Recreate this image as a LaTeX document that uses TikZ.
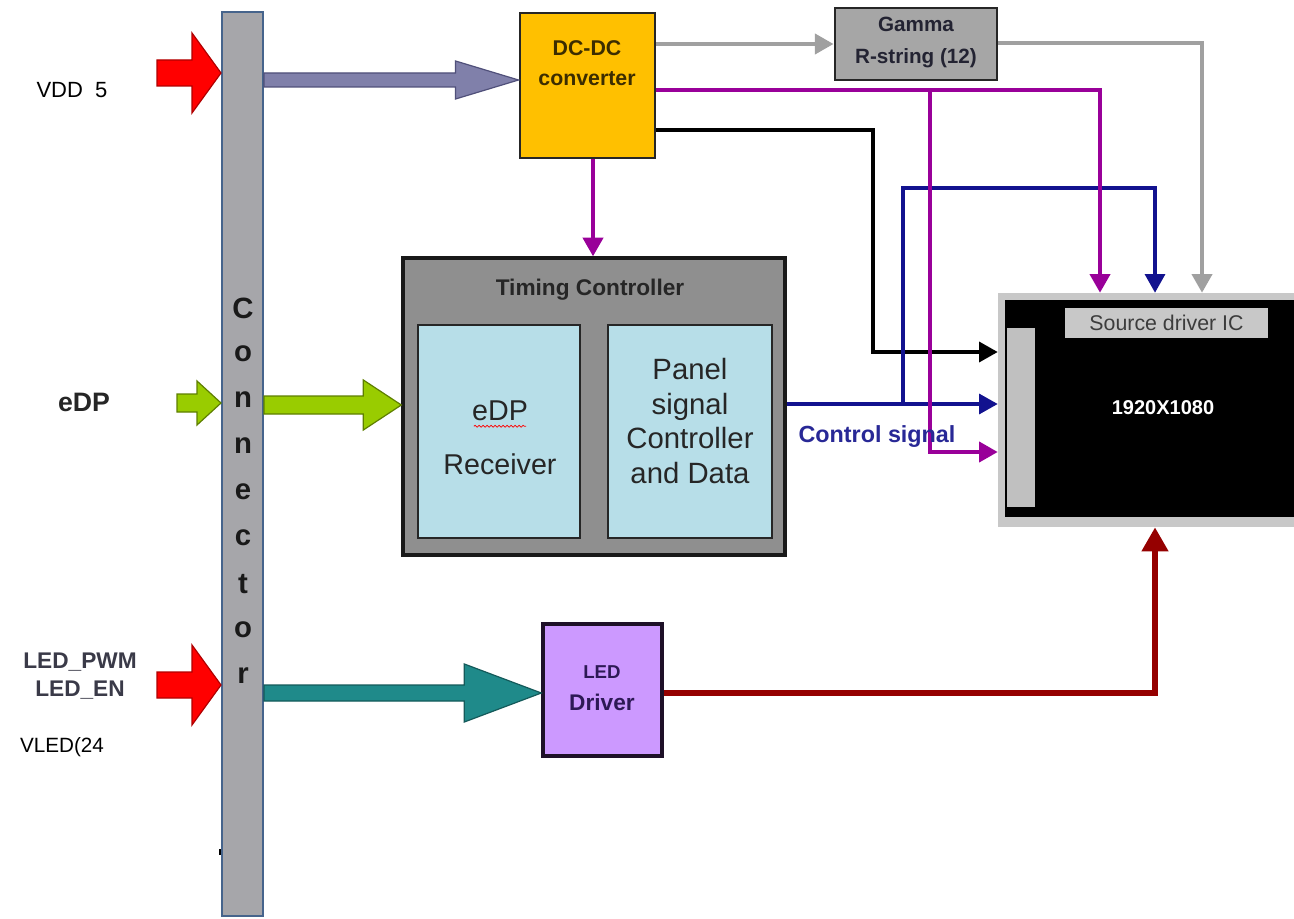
\documentclass[tikz,border=0pt]{standalone}
\usepackage{fontspec}
\setmainfont{Liberation Sans}
\usetikzlibrary{arrows.meta,calc,fit,decorations.pathmorphing}
\definecolor{connG}{RGB}{166,166,170}
\definecolor{connB}{RGB}{70,100,140}
\definecolor{dcY}{HTML}{FFC000}
\definecolor{gamG}{HTML}{A6A6A6}
\definecolor{tcG}{HTML}{8F8F8F}
\definecolor{inB}{HTML}{B7DEE8}
\definecolor{ledP}{HTML}{CC99FF}
\definecolor{pur}{HTML}{990099}
\definecolor{blu}{HTML}{12128F}
\definecolor{gry}{HTML}{A0A0A0}
\definecolor{dred}{HTML}{950000}
\definecolor{aRed}{HTML}{FF0000}
\definecolor{aRedB}{HTML}{B00000}
\definecolor{vddP}{HTML}{8080AA}
\definecolor{vddPB}{HTML}{50507A}
\definecolor{grn}{HTML}{99CC00}
\definecolor{grnB}{HTML}{5E7F00}
\definecolor{tealc}{HTML}{1F8A8A}
\definecolor{tealB}{HTML}{145A5A}
\definecolor{sdFrame}{HTML}{C8C8C8}
\definecolor{sdBar}{HTML}{C0C0C0}
\definecolor{txtD}{HTML}{262626}
\newcommand\fatarr[7]{\filldraw[fill=#6,draw=#7,line width=0.9pt,line join=miter]
 ($(#1)+(0,-#3)$) -- ($(#2)+(-#5,-#3)$) -- ($(#2)+(-#5,-#4)$) -- (#2) --
 ($(#2)+(-#5,#4)$) -- ($(#2)+(-#5,#3)$) -- ($(#1)+(0,#3)$) -- cycle;}
\begin{document}
\begin{tikzpicture}[x=0.75pt,y=-0.75pt,
  fitbox/.style={inner sep=0pt},
  lbl/.style={inner sep=0pt, align=center},
  tip/.style={-{Triangle[length=14pt,width=15pt]}},
  pline/.style={pur, line width=3pt, tip},
  bline/.style={blu, line width=2.4pt, tip},
  kline/.style={black, line width=2.6pt, tip},
  gline/.style={gry, line width=3pt, tip},
  conntxt/.style={lbl, font=\bfseries\fontsize{22}{24}\selectfont, text=black!90}]
\useasboundingbox (0,0) rectangle (1294,919);
\fill[white] (0,0) rectangle (1294,919);

% connector bar
\node[fitbox, fit={(222,12) (263,916)}, draw=connB, fill=connG, line width=1.5pt] (conn) {};
\foreach \ch [count=\i from 0] in {C,o,n,n,e,c,t,o,r}
  \node[conntxt] (cl\i) at (243,{308+46*\i}) {\ch};
\draw[black, line width=1.5pt] (220,849) -- (220,855);

% boxes
\node[fitbox, fit={(520,13) (655,158)}, draw=black!85, fill=dcY, line width=2.2pt] (dc) {};
\node[lbl, font=\bfseries\fontsize{16}{22}\selectfont, text={rgb,255:red,60;green,45;blue,0}] (dct) at (587,63) {DC-DC\\converter};

\node[fitbox, fit={(835,8) (997,80)}, draw=txtD, fill=gamG, line width=2.2pt] (gam) {};
\node[lbl, font=\bfseries\fontsize{15.5}{24}\selectfont, text={rgb,255:red,35;green,35;blue,50}] (gamt) at (916,42) {Gamma\\R-string (12)};

\node[fitbox, fit={(403,258) (785,555)}, draw=black!90, fill=tcG, line width=2.5pt] (tc) {};
\node[lbl, font=\bfseries\fontsize{17}{20}\selectfont, text=txtD] (tct) at (590,290) {Timing Controller};
\node[fitbox, fit={(418,325) (580,538)}, draw=txtD, fill=inB, line width=1.5pt] (rx) {};
\node[fitbox, fit={(608,325) (772,538)}, draw=txtD, fill=inB, line width=1.5pt] (ps) {};
\node[lbl, font=\fontsize{21.5}{26}\selectfont, text=txtD] (edpr) at (500,411) {eDP};
\draw[red, line width=0.6pt, decorate, decoration={snake, amplitude=0.7pt, segment length=3pt}]
  ($(edpr.south west)+(2,5)$) -- ($(edpr.south east)+(-2,5)$);
\node[lbl, font=\fontsize{21.5}{26}\selectfont, text=txtD] (recv) at (500,464) {Receiver};
\node[lbl, font=\fontsize{22}{26}\selectfont, text=txtD] (pst) at (690,421) {Panel\\signal\\Controller\\and Data};

\node[fitbox, fit={(543,624) (662,756)}, draw={rgb,255:red,30;green,16;blue,40}, fill=ledP, line width=2.5pt] (led) {};
\node[lbl, font=\bfseries\fontsize{14}{16}\selectfont, text={rgb,255:red,45;green,25;blue,85}] (ledt1) at (602,672) {LED};
\node[lbl, font=\bfseries\fontsize{17}{20}\selectfont, text={rgb,255:red,45;green,25;blue,85}] (ledt2) at (602,702) {Driver};

% source driver panel
\node[fitbox, fit={(998,293) (1294,527)}, fill=sdFrame] (sd) {};
\node[fitbox, fit={(1005,300) (1294,517)}, fill=black] (sdb) {};
\node[fitbox, fit={(1007,328) (1035,507)}, fill=sdBar] (sbar) {};
\node[fitbox, fit={(1065,308) (1268,338)}, fill=sdFrame] (sdic) {};
\node[lbl, font=\fontsize{16}{18}\selectfont, text={rgb,255:red,60;green,60;blue,60}] (sdict) at (sdic.center) {Source driver IC};
\node[lbl, font=\bfseries\fontsize{15}{18}\selectfont, text=white] (res) at (1163,408) {1920X1080};

% left labels
\node[lbl, font=\fontsize{16.5}{20}\selectfont] (vddl) at (72,90) {VDD\ \ 5};
\node[lbl, font=\bfseries\fontsize{20}{24}\selectfont, text=txtD] (edpl) at (84,402) {eDP};
\node[lbl, font=\bfseries\fontsize{17}{21}\selectfont, text={rgb,255:red,58;green,58;blue,72}] (ledl) at (80,676) {LED\_PWM\\LED\_EN};
\node[lbl, font=\fontsize{15.5}{18}\selectfont] (vledl) at (62,747) {VLED(24};

% thin connectors
\draw[gline] (dc.east |- gam.west) -- (gam.west);
\draw[gline] (gam.east |- 0,43) -| (sd.north -| 1202,0);
\draw[kline] (dc.east |- 0,130) -- (873,130) |- (sd.west |- 0,352);
\draw[bline] (tc.east |- 0,404) -- (sd.west |- 0,404);
\coordinate (bj) at (903,404);
\draw[bline] (bj) |- (1155,188) -- (sd.north -| 1155,0);
\draw[pline] (dc.east |- 0,90) -| (sd.north -| 1100,0);
\coordinate (pj) at (930,90);
\draw[pline] (pj) |- (sd.west |- 0,452);
\draw[pline] (dc.south -| 593,0) -- (tc.north -| 593,0);
\draw[dred, line width=4.5pt, -{Triangle[length=18pt,width=19pt]}] (led.east |- 0,693) -| (sd.south -| 1155,0);
\node[lbl, font=\bfseries\fontsize{17.5}{20}\selectfont, text={rgb,255:red,40;green,40;blue,150}] (ctl) at (877,437) {Control signal};

% fat arrows
\coordinate (vddin) at (157,73);
\coordinate (vddtip) at (conn.west |- vddin);
\fatarr{vddin}{vddtip}{13}{40}{29}{aRed}{aRedB}
\coordinate (vdds) at (conn.east |- 0,80);
\coordinate (vdde) at (dc.west |- vdds);
\fatarr{vdds}{vdde}{7}{19}{63}{vddP}{vddPB}
\coordinate (edpin) at (177,403);
\coordinate (edptip) at (conn.west |- edpin);
\fatarr{edpin}{edptip}{9}{22}{24}{grn}{grnB}
\coordinate (edps) at (conn.east |- 0,405);
\coordinate (edpe) at (tc.west |- edps);
\fatarr{edps}{edpe}{9}{25}{38}{grn}{grnB}
\coordinate (ledin) at (157,685);
\coordinate (ledtip) at (conn.west |- ledin);
\fatarr{ledin}{ledtip}{13}{40}{29}{aRed}{aRedB}
\coordinate (leds) at (conn.east |- 0,693);
\coordinate (lede) at (led.west |- leds);
\fatarr{leds}{lede}{8}{29}{77}{tealc}{tealB}
\end{tikzpicture}
\end{document}
